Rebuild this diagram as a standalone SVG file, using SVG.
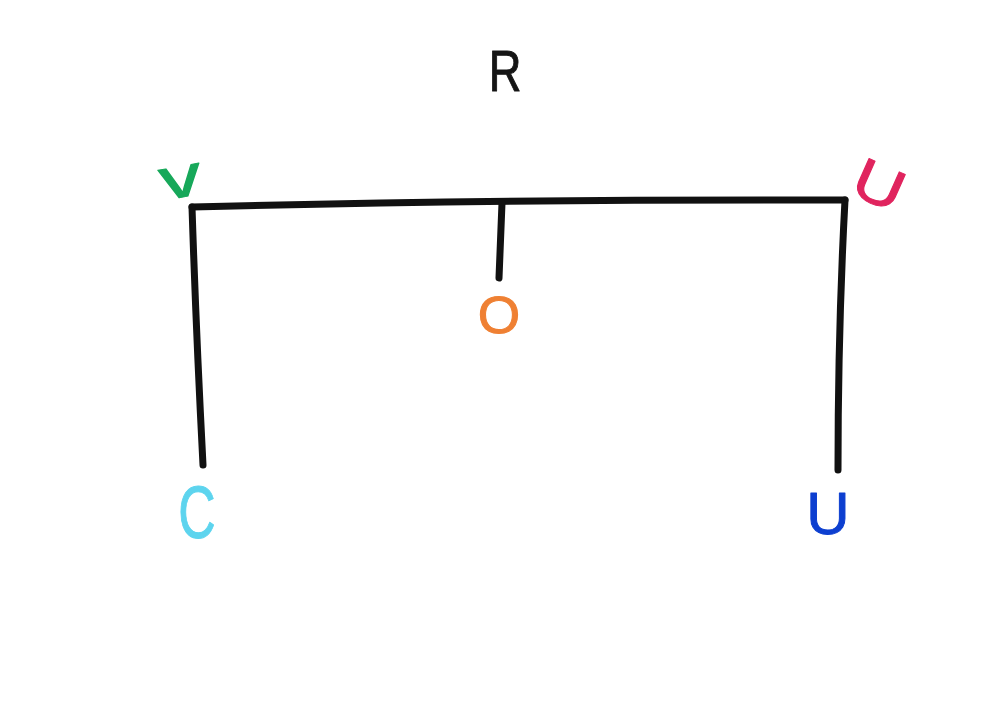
<svg xmlns="http://www.w3.org/2000/svg" width="1000" height="703" viewBox="0 0 1000 703">
<style>
.lbl{font-family:"Liberation Sans","Noto Sans",sans-serif;text-anchor:middle;stroke-width:1;stroke-linejoin:round;stroke-linecap:round}
.edge{fill:none;stroke:#111;stroke-width:7;stroke-linecap:round;stroke-linejoin:round}
</style>
<rect width="1000" height="703" fill="#ffffff"/>
<g id="connectors">
<path class="edge" d="M192,207 Q500,199 845,200"/>
<path class="edge" d="M192,207 Q196,330 203,465"/>
<path class="edge" d="M502,203 L499,278"/>
<path class="edge" d="M845,200 Q838,330 838,470"/>
</g>
<g id="node-R"><text class="lbl" x="505" y="91" font-size="58" fill="#151515" stroke="#151515" transform="translate(505 0) scale(0.78 1) translate(-505 0)">R</text></g>
<g id="node-V"><text class="lbl" x="181" y="197" font-size="58" fill="#17a85a" stroke="#17a85a" transform="rotate(-10 181 182) translate(181 0) scale(1.45 1) translate(-181 0)">v</text></g>
<g id="node-U1"><text class="lbl" x="880" y="205" font-size="58" fill="#e0245e" stroke="#e0245e" transform="rotate(24 880 183) translate(880 0) scale(1.2 1) translate(-880 0)">U</text></g>
<g id="node-O"><text class="lbl" x="499" y="333" font-size="52" fill="#ef8033" stroke="#ef8033" transform="translate(499 0) scale(1.05 1) translate(-499 0)">O</text></g>
<g id="node-C"><text class="lbl" x="197" y="538" font-size="74" fill="#5dd4ee" stroke="#5dd4ee" transform="translate(197 0) scale(0.7 1) translate(-197 0)">C</text></g>
<g id="node-U2"><text class="lbl" x="828" y="534" font-size="60" fill="#0d3fd0" stroke="#0d3fd0">U</text></g>
</svg>
